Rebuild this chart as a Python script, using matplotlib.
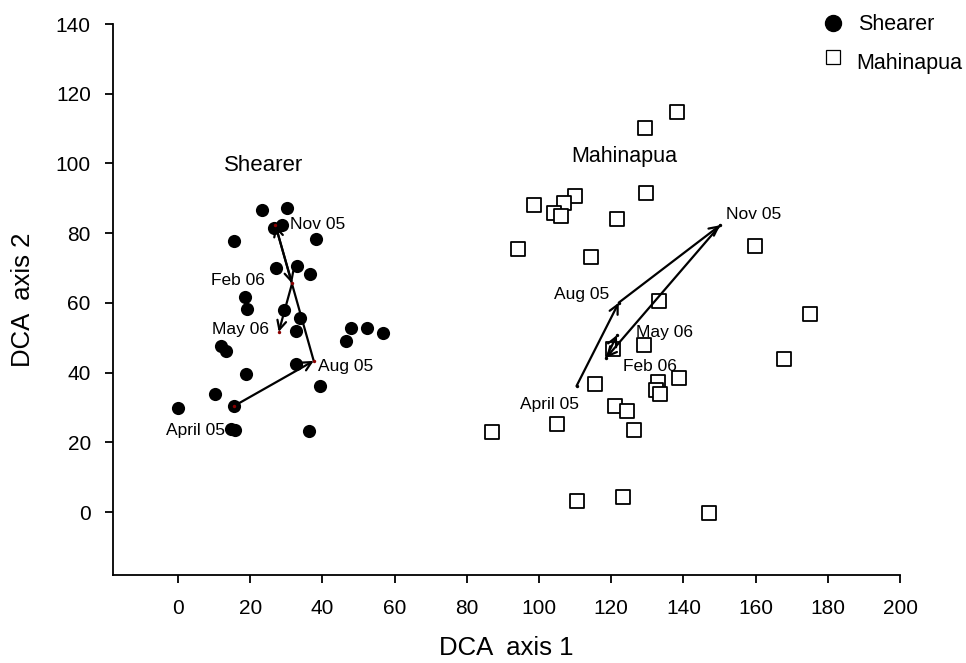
import matplotlib
matplotlib.use("Agg")
import matplotlib.pyplot as plt
from matplotlib.lines import Line2D

plt.rcParams['font.family'] = ['Liberation Sans', 'DejaVu Sans']

# Shearer site scores (DCA axis 1, axis 2)
shearer_x = [23.4, 30.2, 26.5, 28.8, 15.4, 38.3, 27.2, 33.0, 36.5, 18.7, 19.1, 29.5,
             33.7, 32.6, 47.9, 52.4, 56.8, 46.6, 11.9, 13.3, 32.6, 18.8, 39.4, 10.2,
             0.0, 15.6, 14.8, 15.9, 36.4]
shearer_y = [86.6, 87.1, 81.4, 82.3, 77.7, 78.4, 69.9, 70.7, 68.3, 61.8, 58.4, 58.1,
             55.8, 51.9, 52.7, 52.9, 51.3, 49.1, 47.7, 46.3, 42.4, 39.7, 36.2, 34.0,
             30.0, 30.5, 24.0, 23.7, 23.2]

# Mahinapua site scores
mahi_x = [129.5, 138.1, 109.9, 106.8, 98.5, 104.2, 106.1, 129.7, 121.6, 94.1, 114.4,
          133.3, 129.0, 120.4, 115.6, 132.9, 138.9, 132.4, 133.6, 121.1, 124.4, 105.0,
          126.4, 87.0, 159.7, 175.2, 168.0, 147.0, 110.5, 123.2]
mahi_y = [110.2, 114.7, 90.8, 88.6, 88.1, 85.7, 84.9, 91.4, 84.0, 75.6, 73.2,
          60.6, 47.9, 46.8, 36.7, 37.4, 38.6, 35.0, 34.0, 30.4, 29.1, 25.2,
          23.5, 23.0, 76.4, 56.7, 43.8, -0.1, 3.2, 4.4]

# Seasonal centroid trajectories
dates = ["April 05", "Aug 05", "Nov 05", "Feb 06", "May 06"]
shearer_traj_x = [15.6, 37.6, 27.0, 31.6, 27.9]
shearer_traj_y = [30.5, 43.4, 82.3, 65.6, 51.7]
mahi_traj_x = [110.4, 122.1, 150.2, 118.6, 121.6]
mahi_traj_y = [36.2, 60.1, 82.3, 44.3, 50.8]

fig = plt.figure(figsize=(9.66, 6.63), dpi=100)
ax = fig.add_axes([113/966, 1-575/663, (900-113)/966, (575-24)/663])

ax.scatter(shearer_x, shearer_y, s=90, c='black', marker='o', zorder=3, linewidths=0)
ax.scatter(mahi_x, mahi_y, s=100, facecolors='white', edgecolors='black',
           marker='s', linewidths=1.3, zorder=3)

def draw_traj(xs, ys, dotcolor):
    for i in range(len(xs) - 1):
        ax.annotate("", xy=(xs[i+1], ys[i+1]), xytext=(xs[i], ys[i]),
                    arrowprops=dict(arrowstyle='->', lw=1.6, color='black',
                                    shrinkA=0, shrinkB=0, mutation_scale=16),
                    zorder=4)
    ax.scatter(xs, ys, s=6, c=dotcolor, zorder=5, linewidths=0)

draw_traj(shearer_traj_x, shearer_traj_y, '#8b0000')
draw_traj(mahi_traj_x, mahi_traj_y, 'black')

afs = 12.5
# Shearer labels
ax.text(31.1, 82.6, dates[2], fontsize=afs, ha='left', va='center', zorder=6)
ax.text(24.2, 66.4, dates[3], fontsize=afs, ha='right', va='center', zorder=6)
ax.text(25.3, 52.5, dates[4], fontsize=afs, ha='right', va='center', zorder=6)
ax.text(38.8, 41.9, dates[1], fontsize=afs, ha='left', va='center', zorder=6)
ax.text(-3.3, 23.5, dates[0], fontsize=afs, ha='left', va='center', zorder=6)
# Mahinapua labels
ax.text(119.6, 62.5, dates[1], fontsize=afs, ha='right', va='center', zorder=6)
ax.text(126.9, 51.4, dates[4], fontsize=afs, ha='left', va='center', zorder=6)
ax.text(123.3, 41.9, dates[3], fontsize=afs, ha='left', va='center', zorder=6)
ax.text(94.8, 31.0, dates[0], fontsize=afs, ha='left', va='center', zorder=6)
ax.text(151.9, 85.4, dates[2], fontsize=afs, ha='left', va='center', zorder=6)

ax.text(12.8, 99.5, "Shearer", fontsize=16, ha='left', va='center')
ax.text(108.9, 101.9, "Mahinapua", fontsize=15.5, ha='left', va='center')

ax.set_xlim(-18, 200)
ax.set_ylim(-18, 140)
ax.set_xticks(range(0, 201, 20))
ax.set_yticks(range(0, 141, 20))
ax.spines['top'].set_visible(False)
ax.spines['right'].set_visible(False)
for sp in ['left', 'bottom']:
    ax.spines[sp].set_linewidth(1.3)
ax.tick_params(direction='out', length=6, width=1.3, labelsize=15)
ax.tick_params(axis='x', pad=11)
ax.tick_params(axis='y', pad=10)

ax.set_xlabel("DCA  axis 1", fontsize=18.5, labelpad=13)
ax.set_ylabel("DCA  axis 2", fontsize=18.5, labelpad=15)

# Legend (drawn in figure coordinates)
W, H = 966, 663
fig.add_artist(Line2D([833/W], [1-23/H], transform=fig.transFigure, marker='o',
                      color='black', markersize=11.5, linestyle='None'))
fig.add_artist(Line2D([833/W], [1-57/H], transform=fig.transFigure, marker='s',
                      markerfacecolor='white', markeredgecolor='black',
                      markersize=9.5, markeredgewidth=0.9, linestyle='None'))
fig.text(858/W, 1-25/H, "Shearer", fontsize=15.5, ha='left', va='center')
fig.text(856/W, 1-63/H, "Mahinapua", fontsize=15.5, ha='left', va='center')

fig.savefig("out.png", dpi=100)
